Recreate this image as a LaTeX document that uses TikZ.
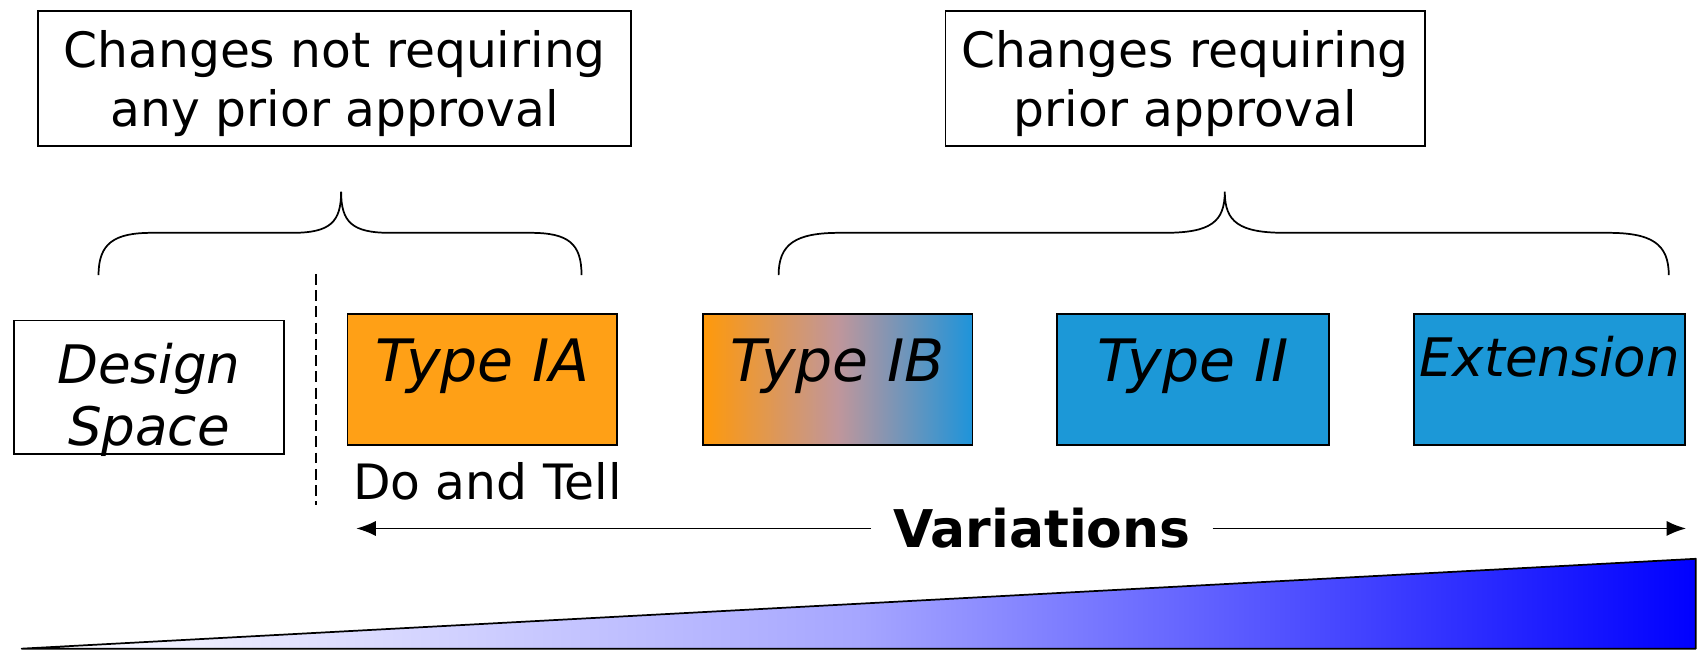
\documentclass[tikz,border=0pt]{standalone}
\usepackage{fontspec}
\setmainfont{DejaVu Sans}
\usepackage{tikz}
\usetikzlibrary{arrows.meta}

\definecolor{iaorange}{RGB}{255,160,22}
\definecolor{iiblue}{RGB}{28,152,215}
\definecolor{ibstart}{RGB}{255,153,10}
\definecolor{ibmid}{RGB}{192,150,155}
\definecolor{ibend}{RGB}{30,148,218}

\begin{document}
\begin{tikzpicture}[x=0.5pt,y=-0.5pt]
\tikzstyle{frame} = [draw,thick,minimum height=62.5pt];
\tikzstyle{heading} = [align=center,font=\fontsize{22.5}{27}\selectfont];
\tikzstyle{var} = [draw,thick,minimum width=124.5pt,minimum height=60.5pt,inner sep=0pt,font=\fontsize{27}{30}\selectfont\itshape];
\tikzstyle{brace} = [thick];
\tikzstyle{span} = [thick,-{Latex[length=9pt,width=7pt]}];
\useasboundingbox (0,0) rectangle (1568,601);

% headings
\node [frame,minimum width=274pt] (free) at (309,72.5) {};
\node [heading] (freetext) at (309,77) {Changes not requiring\\ any prior approval};
\node [frame,minimum width=221.5pt] (prior) at (1094.5,72.5) {};
\node [heading] (priortext) at (1094.5,77) {Changes requiring\\prior approval};

% braces under the headings
\draw [brace] (91,254) .. controls (91,225) and (105,215) .. (140,215) -- (270,215)
  .. controls (305,215) and (315,205) .. (315,177)
  .. controls (315,205) and (325,215) .. (360,215) -- (490,215)
  .. controls (525,215) and (537,225) .. (537,254);
\draw [brace] (719,254) .. controls (719,225) and (735,215) .. (775,215) -- (1075,215)
  .. controls (1118,215) and (1131,205) .. (1131,177)
  .. controls (1131,205) and (1144,215) .. (1187,215) -- (1485,215)
  .. controls (1525,215) and (1541,225) .. (1541,254);

\draw [thick,dash pattern=on 5pt off 2.5pt] (292,253) -- (292,466);

% boxes
\node [draw,thick,minimum width=124.5pt,minimum height=61.5pt] (ds) at (137.5,357.5) {};
\node [align=center,font=\fontsize{24.5}{28.5}\selectfont\itshape] (dstext) at (137.5,369) {Design\\Space};
\node [var,fill=iaorange,text height=31pt,text depth=29.5pt] (ia) at (445.5,350.5) {Type IA};
\node [var,left color=ibstart,right color=ibend,middle color=ibmid,text height=31pt,text depth=29.5pt] (ib) at (773.5,350.5) {Type IB};
\node [var,fill=iiblue,minimum width=125.5pt,text height=31pt,text depth=29.5pt] (t2) at (1101.5,350.5) {Type II};
\node [var,fill=iiblue,minimum width=125pt,text height=29pt,text depth=31.5pt,
  font=\fontsize{24.5}{28}\selectfont\itshape] (ext) at (1431,350.5) {Extension};
\node [anchor=base,font=\fontsize{22.5}{26}\selectfont] (tell) at (450,461) {Do and Tell};

% variations arrow
\node [inner xsep=10pt,font=\fontsize{24}{28}\selectfont\bfseries] (vari) at (962,488) {Variations};
\coordinate (vl) at (329,488);
\coordinate (vr) at (1557,488);
\draw [span] (vari) edge (vl);
\draw [span] (vari) edge (vr);

% growing wedge
\coordinate (w1) at (20,599);
\coordinate (w2) at (1566,516);
\coordinate (w3) at (1566,599);
\shade [left color=white,right color=blue,middle color=blue!35!white] (w1) -- (w2) -- (w3) -- cycle;
\draw [thick,line join=round] (w1) -- (w2) -- (w3) -- cycle;
\end{tikzpicture}
\end{document}
